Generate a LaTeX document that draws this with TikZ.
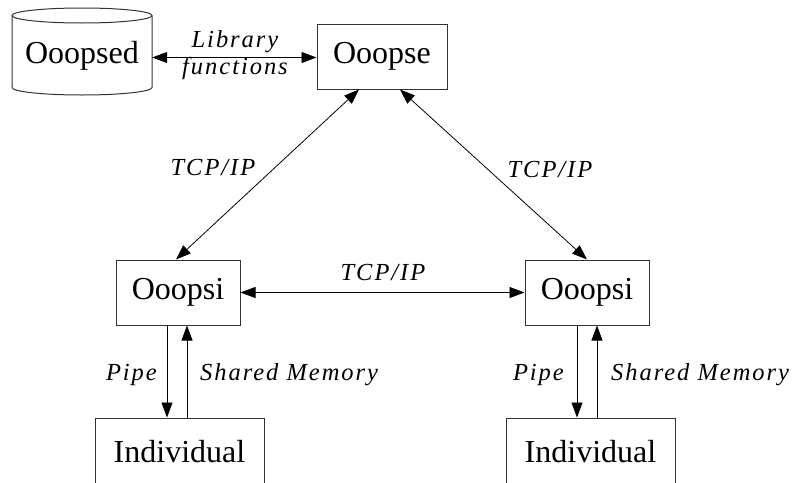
\documentclass[tikz,border=0pt]{standalone}
\usepackage{fontspec}
\setmainfont{Liberation Serif}
\newfontfamily\lblfont[LetterSpace=8]{Liberation Serif}
\usetikzlibrary{arrows.meta}
\tikzset{
  box/.style={draw=black!80, line width=1pt, rectangle, inner sep=0pt, font=\fontsize{32}{36}\selectfont},
  conn/.style={line width=0.8pt, -{Triangle[length=15pt,width=11pt]}},
  bconn/.style={line width=0.8pt, {Triangle[length=15pt,width=11pt]}-{Triangle[length=15pt,width=11pt]}},
  lbl/.style={font=\lblfont\itshape\fontsize{24.5}{27}\selectfont, inner sep=0pt, align=center}
}
\begin{document}
\begin{tikzpicture}[x=1pt,y=-1pt]
\clip (0,0) rectangle (800,482);
\fill[white] (0,0) rectangle (800,482);
% cylinder
\node[inner sep=0pt, minimum width=140pt, minimum height=80pt, font=\fontsize{32}{36}\selectfont] (ooopsed) at (82,56) {Ooopsed};
\draw[black!80, line width=1pt] (12,15.5) -- (12,87.5) arc[start angle=180, end angle=360, x radius=70pt, y radius=7.5pt] -- (152,15.5);
\draw[black!80, line width=1pt] (82,15.5) ellipse[x radius=70pt, y radius=7.5pt];
% boxes
\node[box, minimum width=130pt, minimum height=65pt] (ooopse) at (382,56.5) {Ooopse};
\node[box, minimum width=124pt, minimum height=65pt] (ooopsiL) at (178,292.5) {Ooopsi};
\node[box, minimum width=124pt, minimum height=65pt] (ooopsiR) at (587,292.5) {Ooopsi};
\node[box, minimum width=169pt, minimum height=68pt] (indL) at (179.5,452) {Individual};
\node[box, minimum width=169pt, minimum height=68pt] (indR) at (590.5,452) {Individual};
% connectors
\draw[bconn] ([yshift=-1.5pt]ooopsed.east) -- ([yshift=-1.5pt]ooopsed.east -| ooopse.west);
\node[lbl] (libl) at (235,55) {Library\\functions};
\draw[bconn] ([xshift=-23pt]ooopse.south) -- ([xshift=-2pt]ooopsiL.north);
\draw[bconn] ([xshift=18pt]ooopse.south) -- (ooopsiR.north);
\draw[bconn] (ooopsiL.east) -- (ooopsiR.west);
\node[lbl] (tcpl) at (213,168) {TCP/IP};
\node[lbl] (tcpr) at (550,170) {TCP/IP};
\node[lbl] (tcpm) at (383,273) {TCP/IP};
% pipes
\coordinate (pl) at ([xshift=-11pt]ooopsiL.south);
\coordinate (sl) at ([xshift=9pt]ooopsiL.south);
\coordinate (pr) at ([xshift=-10pt]ooopsiR.south);
\coordinate (sr) at ([xshift=10pt]ooopsiR.south);
\draw[conn] (pl) -- (pl |- indL.north);
\draw[conn] (sl |- indL.north) -- (sl);
\draw[conn] (pr) -- (pr |- indR.north);
\draw[conn] (sr |- indR.north) -- (sr);
\node[lbl, anchor=east] (pipel) at (157,375) {Pipe};
\node[lbl, anchor=west] (shml) at (200,375) {Shared Memory};
\node[lbl, anchor=east] (piper) at (564,375) {Pipe};
\node[lbl, anchor=west] (shmr) at (611,375) {Shared Memory};
\end{tikzpicture}
\end{document}
